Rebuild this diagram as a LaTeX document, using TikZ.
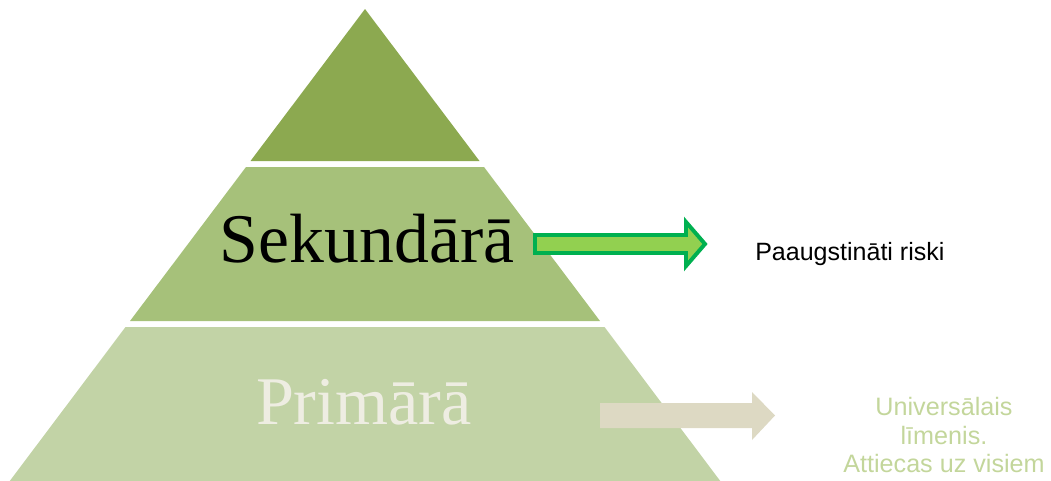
\documentclass[tikz,border=0pt]{standalone}
\usepackage{fontspec}
\setmainfont{Liberation Serif}
\newfontfamily\arialfont{Liberation Sans}

\definecolor{topgreen}{RGB}{140,169,80}
\definecolor{midgreen}{RGB}{166,193,122}
\definecolor{lowgreen}{RGB}{194,211,166}
\definecolor{paletext}{RGB}{238,237,226}
\definecolor{arrowfill}{RGB}{146,208,80}
\definecolor{arrowedge}{RGB}{0,176,80}
\definecolor{arrowbeige}{RGB}{221,217,195}
\definecolor{notegreen}{RGB}{195,214,155}

\tikzset{
  levelname/.style={anchor=base, inner sep=0pt, font=\fontsize{48.5pt}{57pt}\selectfont},
  sidenote/.style={inner sep=0pt, font=\arialfont\fontsize{17.8pt}{20.3pt}\selectfont}
}

\begin{document}
\begin{tikzpicture}[x=0.025cm,y=-0.025cm]
\useasboundingbox (0,0) rectangle (1051,480);
\clip (0,0) rectangle (1051,480);
% pyramid levels
\fill[topgreen] (365,9) -- (479.5,161) -- (250.5,161) -- cycle;
\fill[midgreen] (246,167) -- (484,167) -- (600,321) -- (130,321) -- cycle;
\fill[lowgreen] (125.5,327) -- (604.5,327) -- (721,482) -- (9,482) -- cycle;
\node[levelname, font=\fontsize{49.6pt}{57pt}\selectfont] (sekundara) at (367,262) {Sekundārā};
\node[levelname, text=paletext] (primara) at (364,424) {Primārā};
% block arrows
\filldraw[fill=arrowfill, draw=arrowedge, line width=2.8pt, line join=miter]
  (535,235) -- (686,235) -- (686,222) -- (705,244) -- (686,266) -- (686,253) -- (535,253) -- cycle;
\fill[arrowbeige] (600,403) -- (752,403) -- (752,392) -- (775,415.5) -- (752,440) -- (752,428) -- (600,428) -- cycle;
% notes
\node[sidenote, anchor=base west] (riski) at (755,260) {Paaugstināti riski};
\node[sidenote, anchor=north, align=center, text=notegreen, font=\arialfont\fontsize{17.9pt}{20.3pt}\selectfont]
  (universal) at (944,397) {Universālais\\līmenis.\\Attiecas uz visiem};
\end{tikzpicture}
\end{document}
